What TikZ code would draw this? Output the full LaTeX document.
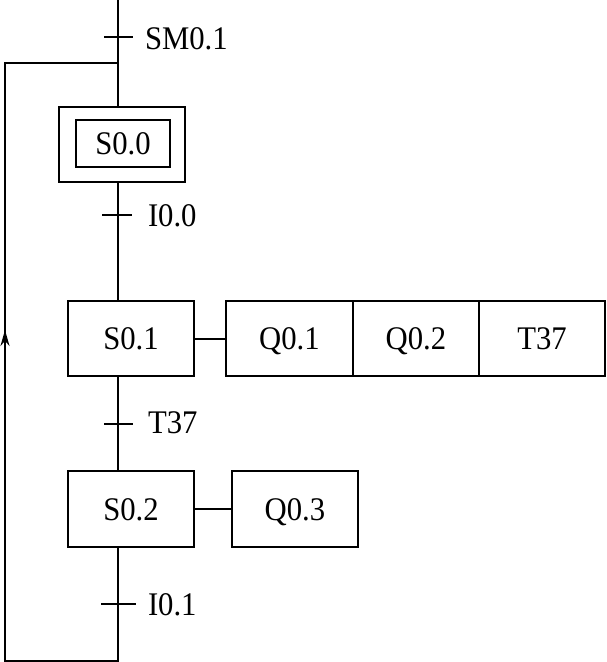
\documentclass[tikz,border=0pt]{standalone}
\usepackage{fontspec}
\setmainfont[FakeStretch=0.93]{Liberation Serif}
\usetikzlibrary{arrows.meta}
\begin{document}
\begin{tikzpicture}[x=1pt,y=-1pt,line width=2pt,
  box/.style={draw,rectangle,inner sep=0pt,text height=22pt,text depth=0pt,font=\fontsize{33}{38}\selectfont},
  lbl/.style={anchor=west,inner sep=0pt,text height=22pt,text depth=0pt,font=\fontsize{33}{38}\selectfont},
  tick/.style={line width=2pt}]
\useasboundingbox (0,0) rectangle (606,662);
% steps
\node[box,minimum width=126pt,minimum height=75pt] (S00o) at (122,144.5) {};
\node[box,minimum width=94pt,minimum height=47pt] (S00) at (123,143.5) {S0.0};
\node[box,minimum width=126pt,minimum height=75pt] (S01) at (131,338.5) {S0.1};
\node[box,minimum width=127pt,minimum height=75pt] (Q01) at (289.5,338.5) {Q0.1};
\node[box,minimum width=126pt,minimum height=75pt] (Q02) at (416,338.5) {Q0.2};
\node[box,minimum width=126pt,minimum height=75pt] (T37) at (542,338.5) {T37};
\node[box,minimum width=126pt,minimum height=76pt] (S02) at (131,509) {S0.2};
\node[box,minimum width=126pt,minimum height=76pt] (Q03) at (295,509) {Q0.3};
% coordinates
\coordinate (top) at (118,0);
\coordinate (t1) at (118,37);
\coordinate (t2) at (118,215);
\coordinate (t3) at (118,424);
\coordinate (t4) at (118,604);
\coordinate (jn) at (118,63);
\coordinate (bot) at (118,661);
\coordinate (lb) at (5,661);
\coordinate (lt) at (5,63);
% main line
\draw (top) -- (top |- S00o.north);
\draw (t2 |- S00o.south) -- (t2 |- S01.north);
\draw (t3 |- S01.south) -- (t3 |- S02.north);
\draw (t4 |- S02.south) -- (bot) -- (lb) -- (lt) -- (jn);
\draw (S01.east) -- (Q01.west);
\draw (S02.east) -- (Q03.west);
% arrow on loop
\draw[-{Stealth[length=16pt,width=9pt]}] (5,352) -- (5,330);
% transitions
\draw[tick] ([xshift=-14pt]t1) -- ([xshift=15pt]t1);
\draw[tick] ([xshift=-16pt]t2) -- ([xshift=14pt]t2);
\draw[tick] ([xshift=-14pt]t3) -- ([xshift=15pt]t3);
\draw[tick] ([xshift=-17pt]t4) -- ([xshift=18pt]t4);
\node[lbl] (l1) at (144,38) {SM0.1};
\node[lbl] (l2) at (147,215) {I0.0};
\node[lbl] (l3) at (147,422) {T37};
\node[lbl] (l4) at (147,604) {I0.1};
\end{tikzpicture}
\end{document}
